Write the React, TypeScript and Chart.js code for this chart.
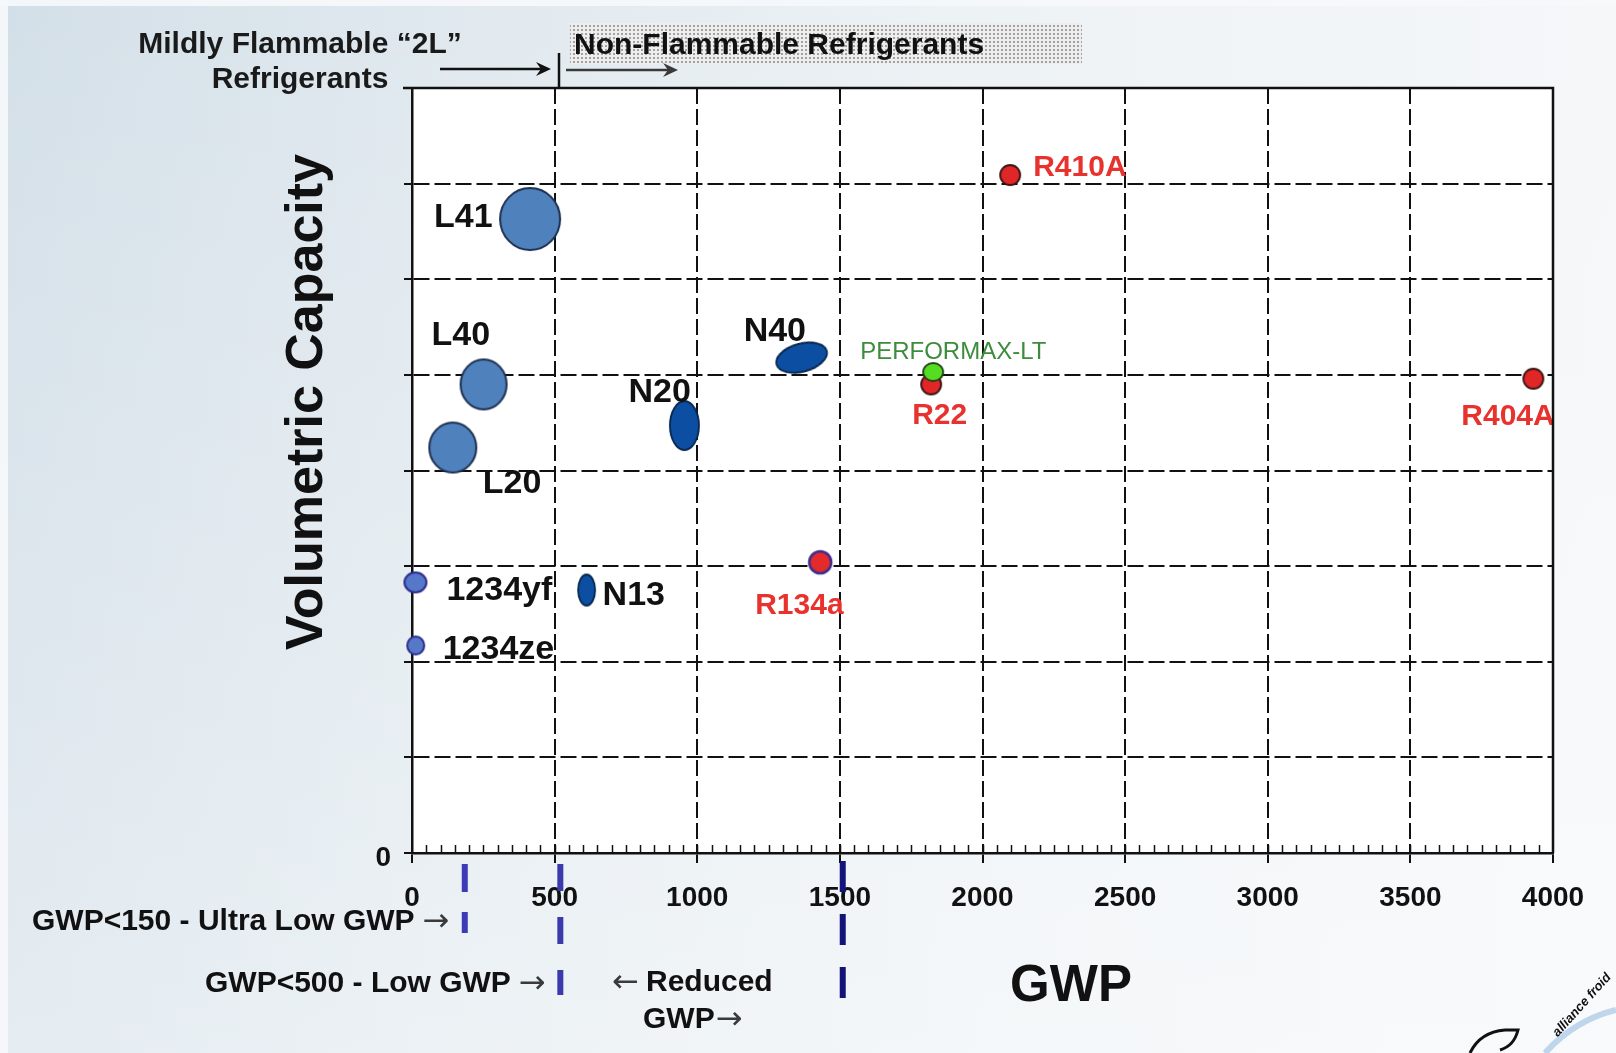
import React, { useEffect, useRef } from "react";
import { Chart, registerables } from "chart.js";

Chart.register(...registerables);

const FONT = "'Liberation Sans', Arial, Helvetica, sans-serif";
const W = 1616;
const H = 1053;

// ---------------- data ----------------
const refrigerants = [
  "L41", "L40", "L20", "N20", "N40", "R22", "PERFORMAX-LT",
  "R410A", "R404A", "R134a", "1234yf", "1234ze", "N13",
];
const gwpValues = [414, 251, 143, 955, 1366, 1820, 1827, 2097, 3931, 1431, 12, 13, 612];
const capacityValues = [6.63, 4.9, 4.24, 4.47, 5.18, 4.9, 5.03, 7.09, 4.96, 3.04, 2.83, 2.17, 2.75];
const xTickValues = [0, 500, 1000, 1500, 2000, 2500, 3000, 3500, 4000];
const xTickLabels = ["0", "500", "1000", "1500", "2000", "2500", "3000", "3500", "4000"];
const yTickLabels = ["0", "", "", "", "", "", "", "", ""];
const gwpMarkerValues = [185, 520, 1510];
const minorTickStep = 50;

// ---------------- styles ----------------
// [rx, ry, rotation(deg)]
const bubbleShape: number[][] = [
  [30, 31, 0], [23, 25, 0], [23.5, 25, 0], [14.5, 24.5, 0], [26, 14, -15],
  [10, 10, 0], [10, 9, 0], [10, 10, 0], [10, 10, 0], [11, 11, 0],
  [11, 10, 0], [8.5, 9, 0], [8.5, 15.5, 0],
];
const bubbleKind = ["L", "L", "L", "N", "N", "red", "green", "red", "red", "redRing", "hfo", "hfo", "N"];
const bubbleStyles: Record<string, { fill: string; stroke: string; lw: number }> = {
  L: { fill: "#4f81bd", stroke: "#1d3050", lw: 2 },
  N: { fill: "#0b4ea2", stroke: "#08284e", lw: 1.8 },
  red: { fill: "#e02626", stroke: "#3a1414", lw: 1.8 },
  redRing: { fill: "#e42a2a", stroke: "#3f2f8c", lw: 2.6 },
  green: { fill: "#55dd22", stroke: "#24401a", lw: 1.8 },
  hfo: { fill: "#5578c8", stroke: "#2c2c8c", lw: 2 },
};
// [dx, dy, kind]
const labelLayout: (number | string)[][] = [
  [-96, -1, "black"], [-52, -49, "black"], [30, 36, "black"], [-56, -33, "black"],
  [-58, -26, "black"], [-19, 31, "red"], [-73, -20, "green"], [23, -7, "red"],
  [-72, 38, "red"], [-65, 43.5, "red"], [31, 8, "black"], [27, 4, "black"], [16, 5.5, "black"],
];
const labelStyles: Record<string, { font: string; color: string }> = {
  black: { font: `bold 34px ${FONT}`, color: "#111111" },
  red: { font: `bold 30px ${FONT}`, color: "#e8322e" },
  green: { font: `24px ${FONT}`, color: "#3d8c3d" },
};
// [yStart, yEnd, dashOn, dashOff, color]
const markerStyles: (number | string)[][] = [
  [864, 933, 28, 20, "#3b3bb5"],
  [864, 995, 27, 26, "#3a3aae"],
  [861, 998, 31, 22, "#13137a"],
];

function makeEllipse(rx: number, ry: number, fill: string, stroke: string, lw: number) {
  const c = document.createElement("canvas");
  const pad = lw + 2;
  c.width = Math.ceil(2 * rx + 2 * pad);
  c.height = Math.ceil(2 * ry + 2 * pad);
  const g = c.getContext("2d")!;
  g.beginPath();
  g.ellipse(c.width / 2, c.height / 2, rx, ry, 0, 0, Math.PI * 2);
  g.fillStyle = fill;
  g.fill();
  g.lineWidth = lw;
  g.strokeStyle = stroke;
  g.stroke();
  return c;
}

function txt(
  ctx: CanvasRenderingContext2D, s: string, x: number, y: number, font: string,
  color: string, align: CanvasTextAlign = "left"
) {
  ctx.font = font;
  ctx.fillStyle = color;
  ctx.textAlign = align;
  ctx.textBaseline = "middle";
  ctx.fillText(s, x, y);
}

function arrowRight(ctx: CanvasRenderingContext2D, x1: number, x2: number, y: number, color: string, lw: number) {
  ctx.save();
  ctx.strokeStyle = color;
  ctx.fillStyle = color;
  ctx.lineWidth = lw;
  ctx.beginPath();
  ctx.moveTo(x1, y);
  ctx.lineTo(x2 - 6, y);
  ctx.stroke();
  ctx.beginPath();
  ctx.moveTo(x2, y);
  ctx.lineTo(x2 - 15, y - 7);
  ctx.lineTo(x2 - 10, y);
  ctx.lineTo(x2 - 15, y + 7);
  ctx.closePath();
  ctx.fill();
  ctx.restore();
}

const ARROW_FONT = `32px 'DejaVu Sans', ${FONT}`;

const decorPlugin = {
  id: "decor",
  beforeDraw(chart: any) {
    const ctx: CanvasRenderingContext2D = chart.ctx;
    const a = chart.chartArea;
    ctx.save();
    const g = ctx.createLinearGradient(0, 0, W, 0);
    g.addColorStop(0, "#d3dfe8");
    g.addColorStop(0.25, "#dfe8ee");
    g.addColorStop(0.6, "#edf2f5");
    g.addColorStop(1, "#f5f7f9");
    ctx.fillStyle = g;
    ctx.fillRect(0, 0, W, H);
    const g2 = ctx.createLinearGradient(0, 0, 0, H);
    g2.addColorStop(0, "rgba(255,255,255,0)");
    g2.addColorStop(1, "rgba(255,255,255,0.4)");
    ctx.fillStyle = g2;
    ctx.fillRect(0, 0, W, H);
    ctx.fillStyle = "rgba(246,248,250,0.95)";
    ctx.fillRect(0, 0, W, 6);
    ctx.fillRect(0, 0, 8, H);

    ctx.fillStyle = "#ffffff";
    ctx.fillRect(a.left, a.top, a.right - a.left, a.bottom - a.top);

    // dotted box behind "Non-Flammable Refrigerants"
    const tile = document.createElement("canvas");
    tile.width = 4;
    tile.height = 4;
    const tg = tile.getContext("2d")!;
    tg.fillStyle = "#eeeeee";
    tg.fillRect(0, 0, 4, 4);
    tg.fillStyle = "#a2a2a2";
    tg.fillRect(1, 1, 2, 2);
    const pat = ctx.createPattern(tile, "repeat");
    if (pat) {
      ctx.fillStyle = pat;
      ctx.fillRect(570, 23, 512, 41);
    }
    ctx.restore();
  },
  afterDatasetsDraw(chart: any) {
    const ctx: CanvasRenderingContext2D = chart.ctx;
    const meta = chart.getDatasetMeta(0);
    ctx.save();
    meta.data.forEach((el: any, i: number) => {
      const [dx, dy, kind] = labelLayout[i] as [number, number, string];
      const st = labelStyles[kind];
      txt(ctx, refrigerants[i], el.x + dx, el.y + dy, st.font, st.color, "left");
    });
    ctx.restore();
  },
  afterDraw(chart: any) {
    const ctx: CanvasRenderingContext2D = chart.ctx;
    const a = chart.chartArea;
    const xs = chart.scales.x;
    ctx.save();

    // solid top and right frame
    ctx.strokeStyle = "#111";
    ctx.lineWidth = 2.5;
    ctx.beginPath();
    ctx.moveTo(a.left - 9, a.top);
    ctx.lineTo(a.right, a.top);
    ctx.lineTo(a.right, a.bottom);
    ctx.stroke();

    // minor ticks on x axis (inside)
    ctx.lineWidth = 1.5;
    ctx.beginPath();
    for (let v = minorTickStep; v < 4000; v += minorTickStep) {
      const px = Math.round(xs.getPixelForValue(v)) + 0.5;
      ctx.moveTo(px, a.bottom);
      ctx.lineTo(px, a.bottom - 8);
    }
    ctx.stroke();

    // GWP markers
    gwpMarkerValues.forEach((v, i) => {
      const [y1, y2, on, off, color] = markerStyles[i] as [number, number, number, number, string];
      const px = xs.getPixelForValue(v);
      ctx.save();
      ctx.strokeStyle = color;
      ctx.lineWidth = 6;
      ctx.setLineDash([on, off]);
      ctx.beginPath();
      ctx.moveTo(px, y1);
      ctx.lineTo(px, y2);
      ctx.stroke();
      ctx.restore();
    });

    // top annotations
    const bold30 = `bold 30px ${FONT}`;
    txt(ctx, "Mildly Flammable \u201C2L\u201D", 300, 45, bold30, "#1a1a1a", "center");
    txt(ctx, "Refrigerants", 300, 80, bold30, "#1a1a1a", "center");
    txt(ctx, "Non-Flammable Refrigerants", 574, 46, bold30, "#111", "left");
    arrowRight(ctx, 440, 551, 69, "#111", 2.5);
    ctx.strokeStyle = "#111";
    ctx.lineWidth = 2.5;
    ctx.beginPath();
    ctx.moveTo(559, 53);
    ctx.lineTo(559, a.top);
    ctx.stroke();
    arrowRight(ctx, 566, 678, 70, "#3a3a3a", 2.5);

    // axis titles
    ctx.save();
    ctx.translate(308, 402);
    ctx.rotate(-Math.PI / 2);
    txt(ctx, "Volumetric Capacity", 0, 0, `bold 52px ${FONT}`, "#111", "center");
    ctx.restore();
    txt(ctx, "GWP", 1071, 987, `bold 51px ${FONT}`, "#111", "center");

    // bottom annotations
    const t1 = "GWP<150 - Ultra Low GWP";
    txt(ctx, t1, 32, 922, bold30, "#111", "left");
    ctx.font = bold30;
    const w1 = ctx.measureText(t1).width;
    txt(ctx, "\u2192", 32 + w1 + 8, 923, ARROW_FONT, "#3a3a3a", "left");
    const t2 = "GWP<500 - Low GWP";
    txt(ctx, t2, 205, 984, bold30, "#111", "left");
    ctx.font = bold30;
    const w2 = ctx.measureText(t2).width;
    txt(ctx, "\u2192", 205 + w2 + 8, 985, ARROW_FONT, "#3a3a3a", "left");
    txt(ctx, "\u2190", 612, 984, ARROW_FONT, "#3a3a3a", "left");
    txt(ctx, "Reduced", 646, 983, bold30, "#111", "left");
    txt(ctx, "GWP", 643, 1020, bold30, "#111", "left");
    ctx.font = bold30;
    const w3 = ctx.measureText("GWP").width;
    txt(ctx, "\u2192", 643 + w3 + 1, 1021, ARROW_FONT, "#3a3a3a", "left");

    // logo fragment (bottom right)
    ctx.save();
    ctx.strokeStyle = "rgba(120,170,220,0.45)";
    ctx.lineWidth = 6;
    ctx.beginPath();
    ctx.moveTo(1545, 1053);
    ctx.quadraticCurveTo(1575, 1020, 1616, 1010);
    ctx.stroke();
    ctx.strokeStyle = "#111";
    ctx.lineWidth = 3;
    ctx.beginPath();
    ctx.moveTo(1470, 1053);
    ctx.quadraticCurveTo(1480, 1032, 1505, 1030);
    ctx.lineTo(1518, 1030);
    ctx.quadraticCurveTo(1514, 1046, 1500, 1050);
    ctx.stroke();
    ctx.translate(1582, 1005);
    ctx.rotate(-48 * Math.PI / 180);
    txt(ctx, "alliance froid", 0, 0, `italic bold 13px ${FONT}`, "#111", "center");
    ctx.restore();

    ctx.restore();
  },
};

export default function App() {
  const ref = useRef<HTMLCanvasElement | null>(null);

  useEffect(() => {
    if (!ref.current) return;
    const images = bubbleShape.map((s, i) => {
      const st = bubbleStyles[bubbleKind[i]];
      return makeEllipse(s[0], s[1], st.fill, st.stroke, st.lw);
    });
    const tickFont = { family: FONT, size: 28, weight: "bold" as const };
    const chart = new Chart(ref.current, {
      type: "scatter",
      data: {
        datasets: [
          {
            label: "Refrigerants",
            data: refrigerants.map((_, i) => ({ x: gwpValues[i], y: capacityValues[i] })),
            pointStyle: images as any,
            pointRotation: bubbleShape.map((s) => s[2]),
            pointRadius: bubbleShape.map((s) => Math.max(s[0], s[1])),
            pointHoverRadius: bubbleShape.map((s) => Math.max(s[0], s[1])),
            showLine: false,
            clip: false as any,
          } as any,
        ],
      },
      options: {
        responsive: false,
        animation: false,
        devicePixelRatio: 1,
        events: [],
        layout: { padding: { left: 0, top: 88, right: 63, bottom: 0 } },
        plugins: { legend: { display: false }, tooltip: { enabled: false } },
        scales: {
          x: {
            type: "linear",
            min: 0,
            max: 4000,
            afterBuildTicks: (scale: any) => {
              scale.ticks = xTickValues.map((v) => ({ value: v }));
            },
            afterFit: (scale: any) => {
              scale.height = H - 853;
            },
            ticks: {
              font: tickFont,
              color: "#111",
              padding: 18,
              maxRotation: 0,
              autoSkip: false,
              callback: (v: any) => {
                const idx = xTickValues.indexOf(Number(v));
                return idx >= 0 ? xTickLabels[idx] : "";
              },
            },
            grid: {
              color: "#111",
              lineWidth: 2,
              tickLength: 10,
              tickColor: "#111",
              tickWidth: 2,
            },
            border: { display: true, color: "#111", width: 2.5, dash: [16, 5] },
          },
          y: {
            type: "linear",
            min: 0,
            max: 8,
            afterFit: (scale: any) => {
              scale.width = 412;
            },
            ticks: {
              stepSize: 1,
              callback: (v: any) => yTickLabels[Number(v)] ?? "",
              font: tickFont,
              color: "#111",
              padding: 13,
              labelOffset: 5,
            },
            grid: {
              color: "#111",
              lineWidth: 2,
              tickLength: 8,
              tickColor: "#111",
              tickWidth: 2,
            },
            border: { display: true, color: "#111", width: 2.5, dash: [16, 5] },
          },
        },
      } as any,
      plugins: [decorPlugin as any],
    });
    return () => chart.destroy();
  }, []);

  return (
    <div style={{ position: "fixed", left: 0, top: 0, width: W, height: H }}>
      <canvas ref={ref} width={W} height={H} style={{ display: "block", width: W, height: H }} />
    </div>
  );
}
